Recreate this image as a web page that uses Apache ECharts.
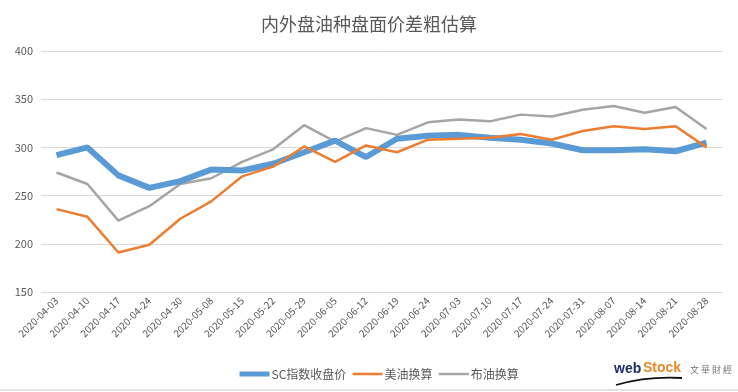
<!DOCTYPE html>
<html><head><meta charset="utf-8">
<script src="https://cdn.jsdelivr.net/npm/echarts@6/dist/echarts.min.js"></script>
<style>html,body{margin:0;padding:0;background:#fff}#c{width:738px;height:392px}</style>
</head><body><div id="c"></div>
<script>
var categories = ['2020-04-03','2020-04-10','2020-04-17','2020-04-24','2020-04-30','2020-05-08','2020-05-15','2020-05-22','2020-05-29','2020-06-05','2020-06-12','2020-06-19','2020-06-24','2020-07-03','2020-07-10','2020-07-17','2020-07-24','2020-07-31','2020-08-07','2020-08-14','2020-08-21','2020-08-28'];
var scClose = [292,300,271,258,265,277,276,283,295,307,290,309,312,313,310,308,304,297,297,298,296,305];
var usOil   = [236,228,191,199,226,244,270,280,301,285,302,295,308,309,310,314,308,317,322,319,322,300];
var brentOil= [274,262,224,239,262,268,285,298,323,306,320,313,326,329,327,334,332,339,343,336,342,319];
var yTicks = {min:150, max:400, interval:50};

var chart = echarts.init(document.getElementById('c'));
var txt = '#595959';
var ff = '"Noto Sans CJK SC", "Microsoft YaHei", sans-serif';
chart.setOption({
  animation:false,
  textStyle:{fontFamily:ff},
  title:{text:'内外盘油种盘面价差粗估算', left:'center', top:10,
    textStyle:{fontSize:18, fontWeight:'normal', color:txt, fontFamily:ff}},
  grid:{left:41, right:16, top:51, bottom:100},
  legend:{bottom:7, left:232, itemWidth:30, itemHeight:10, itemGap:5,
    itemStyle:{opacity:0},
    textStyle:{fontSize:12, color:txt, fontFamily:ff, padding:[0,0,0,-3]},
    data:[{name:'SC指数收盘价', lineStyle:{width:5}},
          {name:'美油换算', lineStyle:{width:2.5}},
          {name:'布油换算', lineStyle:{width:2.5}}]},
  xAxis:{type:'category', data:categories, boundaryGap:true,
    axisLine:{show:false}, axisTick:{show:false},
    axisLabel:{rotate:45, fontSize:10, color:txt, interval:0, margin:7, fontFamily:ff}},
  yAxis:{type:'value', min:yTicks.min, max:yTicks.max, interval:yTicks.interval,
    axisLine:{show:false}, axisTick:{show:false},
    axisLabel:{fontSize:11, color:txt, margin:8, fontFamily:ff},
    splitLine:{lineStyle:{color:'#d9d9d9', width:1}}},
  series:[
    {name:'SC指数收盘价', type:'line', data:scClose, symbol:'none', z:3,
      itemStyle:{color:'#5B9BD5'}, lineStyle:{width:6, color:'#5B9BD5'}},
    {name:'美油换算', type:'line', data:usOil, symbol:'none', z:4,
      itemStyle:{color:'#ED7D31'}, lineStyle:{width:2.5, color:'#ED7D31'}},
    {name:'布油换算', type:'line', data:brentOil, symbol:'none', z:2,
      itemStyle:{color:'#A5A5A5'}, lineStyle:{width:2.5, color:'#A5A5A5'}}
  ],
  graphic:[
    {type:'line', shape:{x1:0,y1:390,x2:738,y2:390}, style:{stroke:'#d9d9d9', lineWidth:1.5}},
    {type:'text', left:614, top:362, style:{text:'web', fill:'#1f2d6b', font:'bold 14px Arial, sans-serif'}},
    {type:'text', left:643, top:361, style:{text:'Stock', fill:'#e8892a', font:'bold 14px Arial, sans-serif'}},
    {type:'text', left:690, top:365, style:{text:'文 華 財 經', fill:'#777', font:'9px "Noto Sans CJK TC", sans-serif'}},
    {type:'bezierCurve', shape:{x1:616,y1:385,x2:682,y2:378,cpx1:640,cpy1:378,cpx2:665,cpy2:377},
      style:{stroke:'#111', lineWidth:1.8, fill:null}}
  ]
});
</script></body></html>
